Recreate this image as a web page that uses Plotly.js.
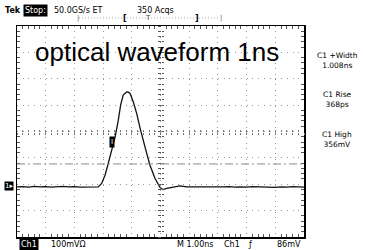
<!DOCTYPE html>
<html>
<head>
<meta charset="utf-8">
<script src="https://cdn.plot.ly/plotly-3.0.1.min.js"></script>
<style>html,body{margin:0;padding:0;background:#fff;}#chart{width:365px;height:250px;}</style>
</head>
<body>
<div id="chart"></div>
<script>
// Waveform samples: time (ns from left edge) and voltage (mV, ground = 0)
const timeNs = [0, 0.2, 0.4, 0.6, 0.8, 1.0, 1.2, 1.4, 1.6, 1.8, 2.0, 2.2, 2.4, 2.6, 2.83,
  2.95, 3.07, 3.18, 3.30, 3.42, 3.53, 3.61, 3.70, 3.76, 3.82, 3.88, 3.94, 4.05, 4.17, 4.29,
  4.40, 4.52, 4.63, 4.81, 4.98, 5.08, 5.22, 5.45, 5.68, 5.91, 6.14, 6.38, 6.6, 6.8, 7.0,
  7.2, 7.4, 7.6, 7.8, 8.0, 8.2, 8.4, 8.6, 8.8, 9.0, 9.2, 9.4, 9.6, 9.8, 10.0];
const voltageMv = [-1, 0, -2, 1, -1, 0, -2, -1, 1, -1, 0, -2, -1, 0, -1,
  12, 44, 88, 138, 189, 252, 309, 347, 355, 359, 358, 353, 322, 278, 221,
  170, 126, 82, 31, -3, -11, -7, -3, 3, -1, -1, -3, -2, -1, -3,
  -1, 0, -2, -1, -2, 0, -1, -2, -1, -3, -1, -2, 0, -1, -2];

const triggerLevelMv = 86;
const headerLabels = ['Tek', 'Stop:', '50.0GS/s ET', '350 Acqs'];
const measureNames = ['C1 +Width', 'C1 Rise', 'C1 High'];
const measureValues = ['1.008ns', '368ps', '356mV'];
const footerLabels = ['Ch1', '100mV\u03A9', 'M 1.00ns', 'Ch1', '\u0192', '86mV'];
const chartTitle = 'optical waveform 1ns';

// pixel -> paper helpers (plot area: x 17..304, y 26..237)
const L = 17, R = 304, T = 26, B = 237;
const X = p => (p - L) / (R - L);
const Y = p => (B - p) / (B - T);
const FONT = 'DejaVu Sans';

function txt(text, px, py, opts) {
  return Object.assign({
    text: text, x: X(px), y: Y(py), xref: 'paper', yref: 'paper',
    showarrow: false, xanchor: 'left', yanchor: 'middle',
    font: {family: FONT, size: 8, color: '#000'}, borderpad: 0
  }, opts || {});
}

const annotations = [
  {text: chartTitle, x: X(157), y: Y(52), xref: 'paper', yref: 'paper', showarrow: false,
   xanchor: 'center', yanchor: 'middle', font: {family: 'Liberation Sans', size: 26, color: '#000'}},
  txt('<b>' + headerLabels[0] + '</b>', 4, 10),
  txt(headerLabels[1], 23, 10, {bgcolor: '#000', borderpad: 1, font: {family: FONT, size: 8, color: '#fff'}}),
  txt(headerLabels[2], 53, 10),
  txt(headerLabels[3], 136, 10),
  txt('|', 78, 18, {xanchor: 'center', font: {family: FONT, size: 7, color: '#666'}}),
  txt('<b>[</b>', 125, 18, {xanchor: 'center', font: {family: FONT, size: 8, color: '#000'}}),
  txt('T', 148, 18, {xanchor: 'center', font: {family: FONT, size: 7, color: '#444'}}),
  txt('<b>]</b>', 197, 18, {xanchor: 'center', font: {family: FONT, size: 8, color: '#000'}}),
  txt('|', 221, 18, {xanchor: 'center', font: {family: FONT, size: 7, color: '#666'}}),
  txt(footerLabels[0], 19, 244, {bgcolor: '#000', borderpad: 1, font: {family: FONT, size: 8, color: '#fff'}}),
  txt(footerLabels[1], 50, 244),
  txt(footerLabels[2], 176, 244),
  txt(footerLabels[3], 223, 244),
  txt(footerLabels[4], 247, 244),
  txt(footerLabels[5], 276, 244),
  txt('1\u25B8', 4, 186, {bgcolor: '#000', font: {family: FONT, size: 7, color: '#fff'}}),
  txt('I', 112, 142, {xanchor: 'center', bgcolor: '#000', borderpad: 1, font: {family: FONT, size: 7, color: '#fff'}})
];
const measY = [60, 100, 139];
for (let i = 0; i < measureNames.length; i++) {
  annotations.push(txt(measureNames[i] + '<br>' + measureValues[i], 337, measY[i],
    {xanchor: 'center', align: 'center', font: {family: FONT, size: 7.5, color: '#000'}}));
}

const shapes = [
  {type: 'line', xref: 'paper', yref: 'y', x0: 0, x1: 1, y0: triggerLevelMv, y1: triggerLevelMv,
   line: {color: '#888', width: 1, dash: '8px,3px,2px,3px'}},
  {type: 'line', xref: 'paper', yref: 'paper', x0: X(79), x1: X(220), y0: Y(18), y1: Y(18),
   line: {color: '#aaa', width: 1, dash: '1px,2px'}}
];

const gridCommon = {showticklabels: false, zeroline: false, fixedrange: true};

const traces = [
  {x: timeNs, y: voltageMv, type: 'scatter', mode: 'lines',
   line: {color: '#111', width: 1.3}, hoverinfo: 'skip', xaxis: 'x', yaxis: 'y'},
  {x: [], y: [], type: 'scatter', xaxis: 'x2', yaxis: 'y'},
  {x: [], y: [], type: 'scatter', xaxis: 'x3', yaxis: 'y'},
  {x: [], y: [], type: 'scatter', xaxis: 'x', yaxis: 'y2'},
  {x: [], y: [], type: 'scatter', xaxis: 'x', yaxis: 'y3'}
];

const layout = {
  width: 365, height: 250,
  margin: {l: L, r: 365 - R, t: T, b: 250 - B, pad: 0},
  paper_bgcolor: '#fff', plot_bgcolor: '#fff',
  showlegend: false,
  xaxis: Object.assign({}, gridCommon, {
    range: [0, 10], tick0: 0, dtick: 1, showgrid: true, gridcolor: '#999', gridwidth: 1,
    griddash: '1px,4.3px', showline: true, linecolor: '#000', linewidth: 1.5, mirror: 'ticks',
    ticks: '', minor: {ticks: 'inside', dtick: 0.2, tick0: 0, ticklen: 3, tickcolor: '#555', showgrid: false}
  }),
  yaxis: Object.assign({}, gridCommon, {
    range: [-191, 609], tick0: -91, dtick: 100, showgrid: true, gridcolor: '#999', gridwidth: 1,
    griddash: '1px,4.74px', showline: true, linecolor: '#000', linewidth: 1.5, mirror: 'ticks',
    ticks: '', minor: {ticks: 'inside', dtick: 20, tick0: -91, ticklen: 3, tickcolor: '#555', showgrid: false}
  }),
  xaxis2: Object.assign({}, gridCommon, {overlaying: 'x', anchor: 'free', position: 0.5, range: [0, 10],
    showgrid: false, showline: false, ticks: 'inside', dtick: 0.2, tick0: 0, ticklen: 2, tickcolor: '#777'}),
  xaxis3: Object.assign({}, gridCommon, {overlaying: 'x', anchor: 'free', position: 0.5, range: [0, 10],
    showgrid: false, showline: false, ticks: 'outside', dtick: 0.2, tick0: 0, ticklen: 2, tickcolor: '#777'}),
  yaxis2: Object.assign({}, gridCommon, {overlaying: 'y', anchor: 'free', position: 0.5, side: 'left', range: [-191, 609],
    showgrid: false, showline: false, ticks: 'inside', dtick: 20, tick0: -91, ticklen: 2.5, tickcolor: '#555'}),
  yaxis3: Object.assign({}, gridCommon, {overlaying: 'y', anchor: 'free', position: 0.5, side: 'left', range: [-191, 609],
    showgrid: false, showline: false, ticks: 'outside', dtick: 20, tick0: -91, ticklen: 2.5, tickcolor: '#555'}),
  annotations: annotations,
  shapes: shapes
};

Plotly.newPlot('chart', traces, layout, {staticPlot: true, displayModeBar: false});
</script>
</body>
</html>
